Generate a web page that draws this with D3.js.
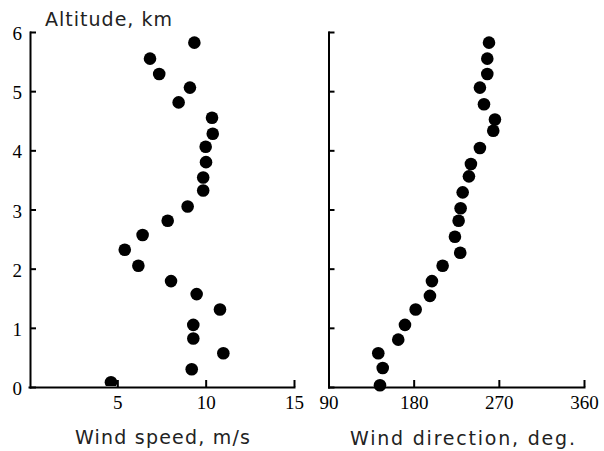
<!DOCTYPE html>
<html>
<head>
<meta charset="utf-8">
<script src="https://cdn.jsdelivr.net/npm/d3@7"></script>
<style>
  body { margin: 0; background: #fff; }
  .axis path, .axis line { stroke: #000; stroke-width: 2; }
  .title { font-family: "DejaVu Sans", sans-serif; font-size: 19px; fill: #222; }
</style>
</head>
<body>
<div id="chart"></div>
<script>
// Left panel: wind speed (m/s) vs altitude (km)
const speedValues = [9.36, 6.85, 7.37, 9.11, 8.47, 10.36, 10.40, 10.00, 10.02, 9.86, 9.86, 8.98,
    7.85, 6.43, 5.42, 6.19, 8.04, 9.49, 10.81, 9.30, 9.30, 11.0, 9.21, 4.64];
const speedAltitudes = [5.82, 5.55, 5.29, 5.06, 4.81, 4.55, 4.28, 4.06, 3.80, 3.54, 3.32, 3.05,
    2.81, 2.57, 2.32, 2.05, 1.79, 1.57, 1.31, 1.05, 0.82, 0.57, 0.30, 0.08];

// Right panel: wind direction (deg) vs altitude (km)
const directionValues = [259.6, 257.8, 257.8, 250.0, 254.3, 265.9, 264.1, 250.0, 240.5, 238.4, 231.8, 229.6,
    227.5, 223.6, 229.2, 210.6, 199.3, 197.2, 182.1, 170.8, 163.7, 142.6, 147.3, 144.4];
const directionAltitudes = [5.82, 5.55, 5.29, 5.06, 4.78, 4.52, 4.33, 4.04, 3.77, 3.56, 3.29, 3.02,
    2.81, 2.54, 2.27, 2.05, 1.79, 1.54, 1.31, 1.05, 0.80, 0.57, 0.32, 0.03];

const altitudeTicks = [0, 1, 2, 3, 4, 5, 6];
const speedTicks = [5, 10, 15];
const directionTicks = [90, 180, 270, 360];

const width = 604, height = 451;
const plotTop = 32, plotBottom = 387;

const svg = d3.select("#chart")
    .append("svg")
    .attr("width", width)
    .attr("height", height);

const y = d3.scaleLinear()
    .domain([0, 6])
    .range([plotBottom, plotTop]);

const xSpeed = d3.scaleLinear()
    .domain([0, 15])
    .range([29, 294]);

const xDir = d3.scaleLinear()
    .domain([90, 360])
    .range([328.5, 584]);

// serif tick labels like the original figure
function serifTicks(g) {
    g.selectAll("text")
        .style("font-family", "Liberation Serif")
        .style("font-size", "19px")
        .style("fill", "#000");
}

// clip for the left panel (bottom dot is cut by the axis)
svg.append("clipPath")
    .attr("id", "clipLeft")
    .append("rect")
    .attr("x", 30)
    .attr("y", 0)
    .attr("width", 280)
    .attr("height", plotBottom - 1);

// left axes
svg.append("g")
    .attr("class", "axis")
    .attr("transform", `translate(30,0)`)
    .call(d3.axisLeft(y).tickValues(altitudeTicks).tickFormat(d3.format("d"))
        .tickSize(-6).tickSizeOuter(0).tickPadding(8))
    .call(serifTicks)
    .selectAll("text")
    .attr("dy", "0.4em");

svg.append("g")
    .attr("class", "axis")
    .attr("transform", `translate(0,${plotBottom})`)
    .call(d3.axisBottom(xSpeed).tickValues(speedTicks).tickSize(-7).tickSizeOuter(0).tickPadding(9))
    .call(serifTicks);

// right axes
svg.append("g")
    .attr("class", "axis")
    .attr("transform", `translate(328.5,0)`)
    .call(d3.axisLeft(y).tickValues(altitudeTicks).tickSize(-6).tickSizeOuter(0).tickFormat(""));

svg.append("g")
    .attr("class", "axis")
    .attr("transform", `translate(0,${plotBottom})`)
    .call(d3.axisBottom(xDir).tickValues(directionTicks).tickSize(-7).tickSizeOuter(0).tickPadding(9))
    .call(serifTicks);

svg.selectAll(".axis path.domain").attr("stroke-linecap", "square");

// dots
svg.append("g")
    .attr("clip-path", "url(#clipLeft)")
    .selectAll("circle")
    .data(speedValues)
    .enter().append("circle")
    .attr("cx", d => xSpeed(d))
    .attr("cy", (d, i) => y(speedAltitudes[i]))
    .attr("r", 6.3)
    .attr("fill", "#000");

svg.append("g")
    .selectAll("circle")
    .data(directionValues)
    .enter().append("circle")
    .attr("cx", d => xDir(d))
    .attr("cy", (d, i) => y(directionAltitudes[i]))
    .attr("r", 6.3)
    .attr("fill", "#000");

// titles
svg.append("text")
    .attr("class", "title")
    .attr("x", 45)
    .attr("y", 26)
    .attr("textLength", 127)
    .attr("lengthAdjust", "spacing")
    .text("Altitude, km");

svg.append("text")
    .attr("class", "title")
    .attr("x", 75)
    .attr("y", 444)
    .attr("textLength", 175)
    .attr("lengthAdjust", "spacing")
    .text("Wind speed, m/s");

svg.append("text")
    .attr("class", "title")
    .attr("x", 350)
    .attr("y", 445)
    .attr("textLength", 225)
    .attr("lengthAdjust", "spacing")
    .text("Wind direction, deg.");
</script>
</body>
</html>
